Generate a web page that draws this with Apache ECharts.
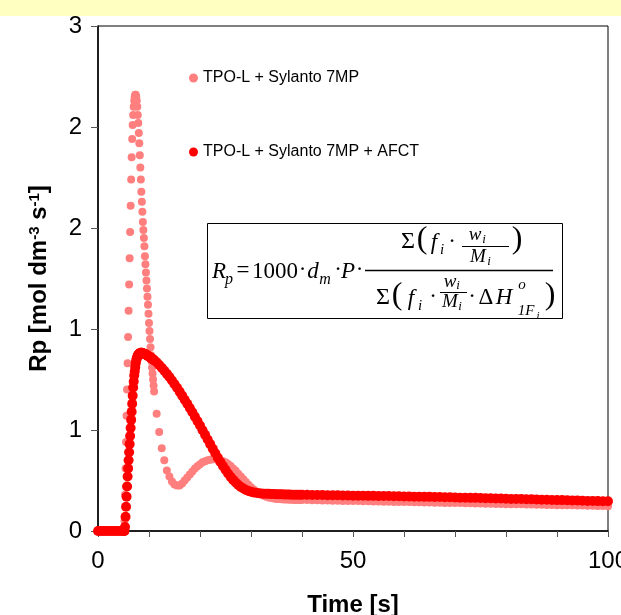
<!DOCTYPE html>
<html>
<head>
<meta charset="utf-8">
<script src="https://cdn.jsdelivr.net/npm/echarts@6/dist/echarts.min.js"></script>
<style>
html,body{margin:0;padding:0;background:#fff;}
#c{width:621px;height:615px;}
</style>
</head>
<body>
<div id="c"></div>
<script>
// Time [s]
const T = [
  0,0.5,1,1.5,2,2.5,3,3.5,4,4.5,5,
  5.1,5.2,5.3,5.4,5.5,5.6,5.7,5.8,5.9,6.0,
  6.1,6.2,6.3,6.4,6.5,6.6,6.7,6.8,6.9,7.0,
  7.1,7.2,7.3,7.4,7.5,7.6,7.7,7.8,7.9,8.0,
  8.1,8.2,8.3,8.4,8.5,8.6,8.7,8.8,8.9,9.0,
  9.1,9.2,9.3,9.4,9.5,9.6,9.7,9.8,9.9,10.0,
  10.1,10.2,10.3,10.4,10.5,10.6,10.7,10.8,10.9,11.0,
  11.5,12,12.5,13,13.5,14,14.5,15,15.5,16,
  16.5,17,17.5,18,18.5,19,19.5,20,20.5,21,
  21.5,22,22.5,23,23.5,24,24.5,25,25.5,26,
  26.5,27,27.5,28,28.5,29,29.5,30,30.5,31,
  31.5,32,
  32.5,33,33.5,34,34.5,35,35.5,36,36.5,37,37.5,38,38.5,39,39.5,40,
  41,42,43,44,45,46,47,48,49,50,
  51,52,53,54,55,56,57,58,59,60,
  61,62,63,64,65,66,67,68,69,70,
  71,72,73,74,75,76,77,78,79,80,
  81,82,83,84,85,86,87,88,89,90,
  91,92,93,94,95,96,97,98,99,100
];
// Rp, TPO-L + Sylanto 7MP
const rpTPO = [
  0,0,0,0,0,0,0,0,0,0,0,
  0,0.05,0.18,0.31,0.44,0.57,0.70,0.83,0.96,1.09,
  1.22,1.35,1.48,1.61,1.74,1.85,1.94,2.01,2.06,2.10,
  2.13,2.15,2.16,2.16,2.15,2.13,2.10,2.06,2.02,1.97,
  1.92,1.86,1.80,1.74,1.68,1.63,1.58,1.53,1.49,1.45,
  1.41,1.36,1.32,1.28,1.24,1.20,1.16,1.12,1.075,1.03,
  0.99,0.95,0.91,0.87,0.84,0.81,0.78,0.75,0.72,0.69,
  0.58,0.49,0.41,0.35,0.30,0.27,0.245,0.23,0.225,0.225,
  0.235,0.25,0.265,0.28,0.295,0.31,0.32,0.33,0.34,0.345,
  0.35,0.353,0.355,0.355,0.353,0.35,0.345,0.34,0.332,0.322,
  0.31,0.298,0.284,0.27,0.256,0.242,0.229,0.217,0.206,0.196,
  0.188,0.181,
  0.175,0.17,0.166,0.163,0.161,0.159,0.158,0.157,0.156,0.156,0.155,0.155,0.154,0.154,0.153,0.153,
  0.153,0.152,0.152,0.151,0.151,0.150,0.150,0.149,0.149,0.148,
  0.148,0.147,0.147,0.146,0.146,0.145,0.145,0.144,0.144,0.143,
  0.143,0.142,0.142,0.141,0.141,0.140,0.140,0.139,0.139,0.138,
  0.138,0.137,0.137,0.136,0.136,0.135,0.135,0.134,0.134,0.133,
  0.133,0.132,0.132,0.131,0.131,0.130,0.130,0.129,0.129,0.128,
  0.128,0.127,0.127,0.126,0.126,0.125,0.125,0.124,0.124,0.123
];
// Rp, TPO-L + Sylanto 7MP + AFCT
const rpAFCT = [
  0,0,0,0,0,0,0,0,0,0,0,
  0,0,0.02,0.07,0.12,0.17,0.22,0.27,0.31,0.35,
  0.39,0.43,0.47,0.51,0.55,0.59,0.63,0.67,0.71,0.74,
  0.77,0.79,0.81,0.83,0.845,0.855,0.862,0.868,0.872,0.876,
  0.878,0.88,0.881,0.882,0.882,0.882,0.881,0.88,0.879,0.878,
  0.877,0.876,0.875,0.873,0.872,0.87,0.869,0.867,0.865,0.864,
  0.862,0.86,0.858,0.857,0.855,0.853,0.851,0.849,0.847,0.845,
  0.835,0.822,0.808,0.793,0.778,0.762,0.745,0.727,0.709,0.69,
  0.67,0.65,0.63,0.609,0.588,0.566,0.544,0.522,0.499,0.476,
  0.453,0.43,0.407,0.385,0.363,0.342,0.322,0.303,0.285,0.268,
  0.253,0.24,0.228,0.218,0.21,0.203,0.198,0.194,0.191,0.189,
  0.187,0.186,
  0.185,0.184,0.184,0.183,0.183,0.182,0.182,0.182,0.181,0.181,0.181,0.18,0.18,0.18,0.18,0.179,
  0.179,0.178,0.178,0.178,0.177,0.177,0.177,0.176,0.176,0.175,
  0.175,0.175,0.174,0.174,0.173,0.173,0.173,0.172,0.172,0.171,
  0.171,0.170,0.170,0.169,0.169,0.168,0.168,0.167,0.167,0.166,
  0.165,0.165,0.164,0.164,0.163,0.162,0.162,0.161,0.161,0.160,
  0.159,0.159,0.158,0.157,0.157,0.156,0.155,0.155,0.154,0.153,
  0.153,0.152,0.151,0.151,0.150,0.149,0.149,0.148,0.147,0.147
];
const seriesNames = ['TPO-L + Sylanto 7MP', 'TPO-L + Sylanto 7MP + AFCT'];
const xTitle = 'Time [s]';

const chart = echarts.init(document.getElementById('c'), null, {renderer: 'canvas'});

const SANS = '"Liberation Sans", Arial, sans-serif';
const SERIF = '"Liberation Serif", "DejaVu Serif", serif';
function tx(cx, cy, s, size, italic) {
  return {
    type: 'text', silent: true, z: 100,
    style: {
      x: cx, y: cy, text: s, fill: '#000',
      font: (italic ? 'italic ' : '') + size + 'px ' + SERIF,
      align: 'center', verticalAlign: 'middle'
    }
  };
}
function ln(x1, y1, x2, y2, w) {
  return {type: 'line', silent: true, z: 100,
    shape: {x1: x1, y1: y1, x2: x2, y2: y2},
    style: {stroke: '#000', lineWidth: w || 1}};
}

const formula = [
  {type: 'rect', silent: true, z: 99, shape: {x: 207.5, y: 223.5, width: 355, height: 95},
   style: {fill: '#fff', stroke: '#000', lineWidth: 1}},
  tx(219, 272, 'R', 23, true),
  tx(229, 280, 'p', 16, true),
  tx(243, 271, '=', 23, false),
  tx(275, 272, '1000', 23, false),
  tx(302.5, 270, '·', 23, false),
  tx(313, 272, 'd', 23, true),
  tx(325, 280, 'm', 16, true),
  tx(338, 270, '·', 23, false),
  tx(348, 272, 'P', 23, true),
  tx(359.5, 270, '·', 23, false),
  ln(365, 270.5, 553, 270.5, 1.3),
  // numerator
  tx(408, 242, 'Σ', 24, false),
  tx(422, 240, '(', 32, false),
  tx(434, 243, 'f', 23, true),
  tx(442, 250, 'i', 15, true),
  tx(452, 242, '·', 23, false),
  tx(475, 235, 'w', 19, true),
  tx(484, 240, 'i', 13, true),
  ln(462, 246.5, 509, 246.5, 1),
  tx(478, 257, 'M', 19, true),
  tx(489, 262, 'i', 13, true),
  tx(517, 240, ')', 32, false),
  // denominator
  tx(383, 298, 'Σ', 24, false),
  tx(397, 296, '(', 32, false),
  tx(411, 299, 'f', 23, true),
  tx(420, 306, 'i', 15, true),
  tx(433, 297, '·', 23, false),
  tx(450, 282, 'w', 19, true),
  tx(458, 286, 'i', 13, true),
  ln(440, 292.5, 467, 292.5, 1),
  tx(450, 302, 'M', 19, true),
  tx(460, 307, 'i', 13, true),
  tx(472, 297, '·', 23, false),
  tx(486, 298, 'Δ', 23, false),
  tx(504, 298, 'H', 23, true),
  tx(522, 285, 'o', 15, true),
  tx(526, 311, '1F', 15, true),
  tx(538, 316, 'i', 11, true),
  tx(550, 296, ')', 32, false)
];

const option = {
  animation: false,
  backgroundColor: '#fff',
  graphic: [
    {type: 'rect', silent: true, z: -10, shape: {x: 0, y: 0, width: 621, height: 16},
     style: {fill: '#FFFFC1'}}
  ].concat(formula),
  legend: {
    orient: 'vertical', left: 184, top: 65, itemGap: 58,
    icon: 'circle', itemWidth: 9, itemHeight: 9,
    textStyle: {fontFamily: SANS, fontSize: 16, color: '#000'},
    data: seriesNames
  },
  grid: {left: 98, right: 13, top: 26, bottom: 84, show: true, borderColor: '#000', borderWidth: 1,
         outerBoundsMode: 'none', containLabel: false},
  xAxis: {
    type: 'value', min: 0, max: 100, interval: 10,
    name: xTitle, nameLocation: 'middle', nameGap: 62,
    nameTextStyle: {fontFamily: SANS, fontSize: 24, fontWeight: 'bold', color: '#000'},
    axisLine: {show: true, lineStyle: {color: '#000', width: 1.5}},
    axisTick: {show: true, inside: false, length: 6, lineStyle: {color: '#555'}},
    axisLabel: {margin: 18, fontFamily: SANS, fontSize: 24, color: '#000',
      hideOverlap: false,
      formatter: v => (v % 50 === 0 ? String(v) : '')},
    splitLine: {show: false}
  },
  yAxis: {
    type: 'value', min: 0, max: 2.5, interval: 0.5,
    name: 'Rp [mol dm{sup|-3} s{sup|-1}]', nameLocation: 'middle', nameGap: 46, nameRotate: 90,
    nameTextStyle: {fontFamily: SANS, fontSize: 24, fontWeight: 'bold', color: '#000',
      rich: {sup: {fontFamily: SANS, fontSize: 15, fontWeight: 'bold', color: '#000', verticalAlign: 'top', padding: [0, 0, 10, 0]}}},
    axisLine: {show: true, lineStyle: {color: '#000', width: 1.5}},
    axisTick: {show: true, inside: false, length: 7, lineStyle: {color: '#555'}},
    axisLabel: {margin: 16, fontFamily: SANS, fontSize: 24, color: '#000',
      formatter: v => String(Math.round(v))},
    splitLine: {show: false}
  },
  series: [
    {name: seriesNames[0], type: 'scatter', symbol: 'circle', symbolSize: 8,
     itemStyle: {color: '#FF7F7F', opacity: 1},
     data: T.map((t, i) => [t, rpTPO[i]])},
    {name: seriesNames[1], type: 'scatter', symbol: 'circle', symbolSize: 10,
     itemStyle: {color: '#FF0000', opacity: 1},
     data: T.map((t, i) => [t, rpAFCT[i]])}
  ]
};
chart.setOption(option);
</script>
</body>
</html>
